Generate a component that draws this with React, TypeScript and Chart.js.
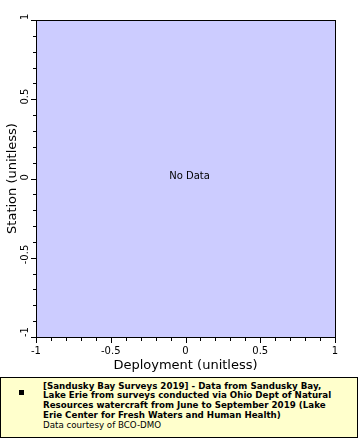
import React, { useEffect, useRef } from "react";
import { Chart, registerables } from "chart.js";

Chart.register(...registerables);

// ---- data (the reference has no data points) ----
const xMin = -1;
const xMax = 1;
const yMin = -1;
const yMax = 1;
const majorTicks = [-1, -0.5, 0, 0.5, 1];
const minorTicks = [-0.9, -0.8, -0.7, -0.6, -0.4, -0.3, -0.2, -0.1, 0.1, 0.2, 0.3, 0.4, 0.6, 0.7, 0.8, 0.9];
const tickLabels = ["-1", "-0.5", "0", "0.5", "1"];
const points: { x: number; y: number }[] = [];
const xTitle = "Deployment (unitless)";
const yTitle = "Station (unitless)";
const noDataText = "No Data";
const legendLines = [
  "[Sandusky Bay Surveys 2019] - Data from Sandusky Bay,",
  "Lake Erie from surveys conducted via Ohio Dept of Natural",
  "Resources watercraft from June to September 2019 (Lake",
  "Erie Center for Fresh Waters and Human Health)",
];
const legendCredit = "Data courtesy of BCO-DMO";

const FONT = "'DejaVu Sans', sans-serif";

const framePlugin = {
  id: "framePlugin",
  beforeDraw(chart: any) {
    const { ctx, chartArea: a } = chart;
    ctx.save();
    ctx.fillStyle = "#ccccff";
    ctx.fillRect(a.left, a.top, a.right - a.left, a.bottom - a.top);
    ctx.restore();
  },
  afterDraw(chart: any) {
    const { ctx, chartArea: a, scales } = chart;
    const xs = scales.x;
    const ys = scales.y;
    ctx.save();
    ctx.strokeStyle = "#000";
    ctx.lineWidth = 1;
    ctx.strokeRect(a.left + 0.5, a.top + 0.5, a.right - a.left, a.bottom - a.top);

    ctx.beginPath();
    const drawX = (v: number, len: number) => {
      const p = Math.round(xs.getPixelForValue(v)) + 0.5;
      ctx.moveTo(p, a.bottom + 1);
      ctx.lineTo(p, a.bottom + 1 + len);
    };
    const drawY = (v: number, len: number) => {
      const p = Math.round(ys.getPixelForValue(v)) + 0.5;
      ctx.moveTo(a.left, p);
      ctx.lineTo(a.left - len, p);
    };
    majorTicks.forEach((v) => { drawX(v, 5); drawY(v, 5); });
    minorTicks.forEach((v) => { drawX(v, 3); drawY(v, 3); });
    ctx.stroke();

    // rotated y tick labels
    ctx.fillStyle = "#000";
    ctx.font = `10px ${FONT}`;
    ctx.textAlign = "left";
    ctx.textBaseline = "middle";
    majorTicks.forEach((v, i) => {
      const label = tickLabels[i];
      const w = ctx.measureText(label).width;
      const py = ys.getPixelForValue(v);
      const start = i === 0 || i === majorTicks.length - 1 ? py : py + w / 3;
      ctx.save();
      ctx.translate(a.left - 10.5, start);
      ctx.rotate(-Math.PI / 2);
      ctx.fillText(label, 0, 0);
      ctx.restore();
    });

    // no data text
    if (points.length === 0) {
      ctx.font = `10px ${FONT}`;
      ctx.textAlign = "center";
      ctx.textBaseline = "middle";
      ctx.fillText(noDataText, (a.left + a.right) / 2 + 4, (a.top + a.bottom) / 2 - 2.5);
    }
    ctx.restore();
  },
};

export default function App() {
  const ref = useRef<HTMLCanvasElement | null>(null);

  useEffect(() => {
    if (!ref.current) return;
    Chart.defaults.font.family = FONT;
    const chart = new Chart(ref.current, {
      type: "scatter",
      data: {
        datasets: [
          {
            label: "data",
            data: points,
            backgroundColor: "#000",
            pointRadius: 2,
          },
        ],
      },
      options: {
        animation: false,
        responsive: false,
        layout: { padding: { left: 0, top: 20, right: 25, bottom: 0 } },
        plugins: {
          legend: { display: false },
          tooltip: { enabled: false },
          title: { display: false },
        },
        scales: {
          x: {
            type: "linear",
            min: xMin,
            max: xMax,
            ticks: {
              stepSize: 0.5,
              autoSkip: false,
              maxRotation: 0,
              color: "#000",
              font: { size: 10, family: FONT },
              padding: 3,
              callback: (v: any) => {
                const i = majorTicks.findIndex((m) => Math.abs(m - Number(v)) < 1e-9);
                return i >= 0 ? tickLabels[i] : "";
              },
            },
            grid: { display: false, drawTicks: true, tickLength: 5 },
            border: { display: false },
            title: {
              display: true,
              text: xTitle,
              color: "#000",
              font: { size: 13, family: FONT },
              padding: { top: 0, bottom: 2 },
            },
            afterFit: (s: any) => {
              s.height = 38;
            },
          },
          y: {
            type: "linear",
            min: yMin,
            max: yMax,
            ticks: { display: false, stepSize: 0.5 },
            grid: { display: false, drawTicks: true, tickLength: 5 },
            border: { display: false },
            title: {
              display: true,
              text: yTitle,
              color: "#000",
              font: { size: 13, family: FONT },
              padding: { top: 5, bottom: 0 },
            },
            afterFit: (s: any) => {
              s.width = 36;
            },
          },
        },
      },
      plugins: [framePlugin],
    } as any);
    return () => chart.destroy();
  }, []);

  return (
    <div style={{ position: "absolute", left: 0, top: 0, width: 360, height: 440 }}>
      <canvas ref={ref} width={360} height={375} style={{ display: "block", width: 360, height: 375 }} />
      <div
        style={{
          position: "absolute",
          left: 0,
          top: 377,
          width: 358,
          height: 61,
          boxSizing: "border-box",
          border: "1px solid #000",
          background: "#ffffcc",
        }}
      />
      <div style={{ position: "absolute", left: 19, top: 390, width: 5, height: 5, background: "#000" }} />
      <div
        style={{
          position: "absolute",
          left: 43,
          top: 381.5,
          fontFamily: FONT,
          fontSize: 8.7,
          lineHeight: "9.75px",
          color: "#000",
          whiteSpace: "pre",
        }}
      >
        {legendLines.map((l, i) => (
          <div key={i} style={{ fontWeight: "bold" }}>{l}</div>
        ))}
        <div>{legendCredit}</div>
      </div>
    </div>
  );
}
